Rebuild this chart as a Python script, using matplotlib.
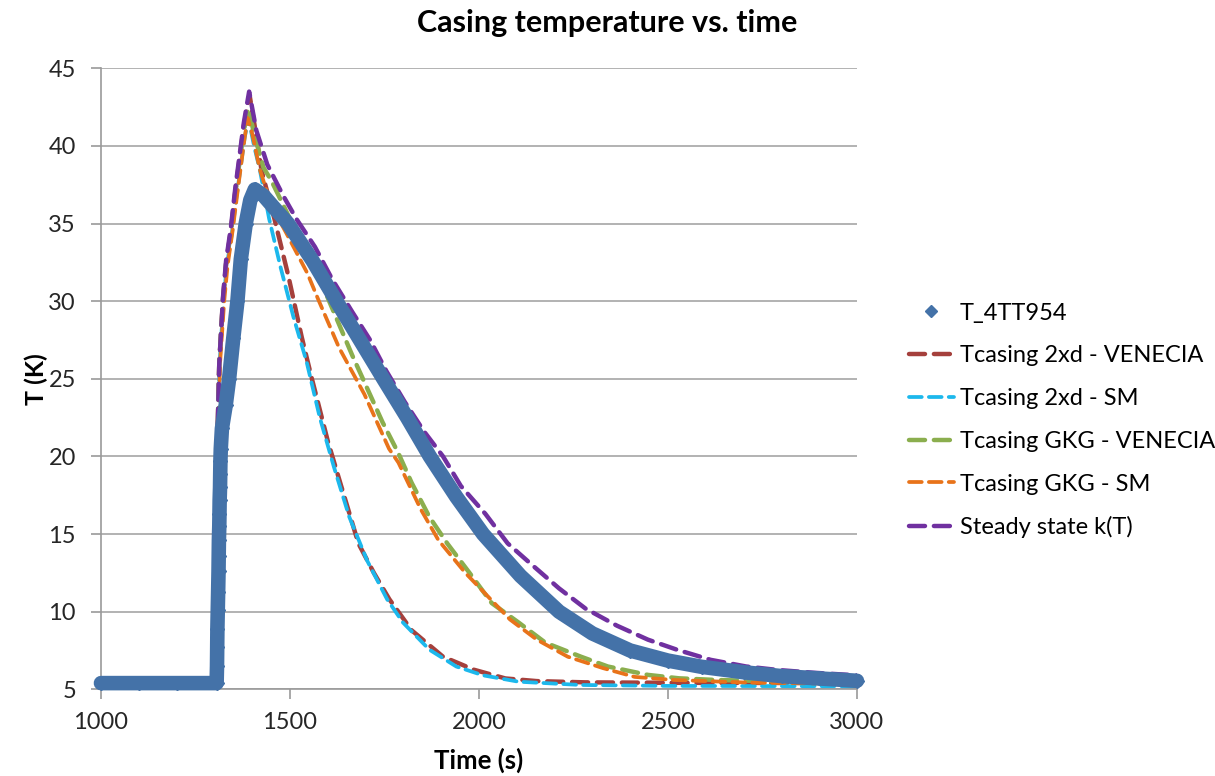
import matplotlib
matplotlib.use("Agg")
import matplotlib.pyplot as plt

plt.rcParams['font.family'] = ['Lato', 'DejaVu Sans']

# =========================
# Data
# =========================

t_meas = [1000, 1100, 1200, 1306, 1307, 1307.5, 1308, 1309, 1310, 1311, 1311.5,
          1312, 1313, 1313.5, 1314, 1315, 1315.5, 1316, 1317, 1320, 1330, 1339,
          1350, 1361, 1370, 1383, 1395, 1407, 1430, 1455, 1495, 1560, 1623, 1685,
          1747, 1810, 1870, 1940, 2011, 2110, 2212, 2300, 2400, 2500, 2589, 2700,
          2801, 2900, 3000]
T_meas = [5.4, 5.4, 5.4, 5.4, 6.5, 7.7, 8.9, 10.1, 11.3, 12.6, 13.6,
          14.6, 15.5, 16.3, 17.2, 18.0, 18.9, 19.7, 20.5, 21.8, 23.3, 25.0,
          27.6, 30.0, 32.7, 35.0, 36.5, 37.2, 36.8, 36.1, 35.0, 32.6, 30.0, 27.5,
          25.0, 22.5, 20.0, 17.4, 15.0, 12.3, 10.0, 8.6, 7.5, 6.85, 6.45, 6.1,
          5.85, 5.7, 5.55]

t_2xd_ven = [1000, 1304, 1306, 1307, 1313, 1323, 1331, 1344, 1355, 1378, 1393,
             1410, 1425, 1460, 1496, 1531, 1557, 1600, 1633, 1681, 1722, 1763,
             1822, 1905, 1987, 2070, 2153, 2280, 2500, 3000]
T_2xd_ven = [5.4, 5.4, 12, 20, 26, 30.2, 32.4, 34.6, 37, 41.3, 43.3,
             40.8, 38.4, 35.2, 31.6, 27.7, 25.1, 21.0, 18.3, 14.4, 12.5, 10.8,
             8.8, 7.1, 6.26, 5.7, 5.53, 5.45, 5.42, 5.4]

t_2xd_sm = [1000, 1304, 1306, 1307, 1314, 1324, 1333, 1346, 1358, 1380, 1390,
            1405, 1420, 1445, 1475, 1509, 1544, 1579, 1616, 1657, 1704, 1757,
            1799, 1869, 1940, 2011, 2105, 2270, 2500, 3000]
T_2xd_sm = [5.4, 5.4, 12, 20, 26, 30, 32.3, 34.3, 36.6, 40.5, 41.8,
            40, 38.5, 35.3, 32.2, 29.0, 26.1, 22.5, 19.35, 16.1, 13.3, 10.8,
            9.3, 7.55, 6.47, 5.9, 5.49, 5.28, 5.22, 5.2]

t_gkg_ven = [1000, 1304, 1306, 1307, 1313, 1323, 1331, 1344, 1355, 1378, 1390,
             1405, 1430, 1450, 1500, 1550, 1595, 1665, 1745, 1787, 1822, 1869,
             1916, 1975, 2034, 2105, 2176, 2270, 2341, 2447, 2529, 2630, 2820, 3000]
T_gkg_ven = [5.4, 5.4, 12, 20, 26, 30.1, 32.4, 34.5, 36.9, 41, 42.4,
             40.8, 38.6, 37.8, 35.3, 33.0, 30.5, 26.5, 22.2, 20.2, 18.3, 16.1,
             14.4, 12.5, 10.55, 9.3, 8.0, 7.1, 6.47, 5.93, 5.71, 5.6, 5.5, 5.45]

t_gkg_sm = [1000, 1304, 1307, 1308, 1315, 1326, 1335, 1348, 1360, 1380, 1388,
            1400, 1420, 1450, 1490, 1546, 1575, 1630, 1697, 1762, 1787, 1846,
            1893, 1964, 2023, 2082, 2153, 2235, 2329, 2412, 2518, 2716, 3000]
T_gkg_sm = [5.4, 5.4, 12, 20, 26, 30, 32.3, 34.5, 36.8, 40.5, 41.8,
            40.8, 38.5, 36.2, 34.4, 31.8, 30.1, 27, 24, 20.5, 19.6, 16.6,
            14.6, 12.5, 11.0, 9.5, 8.2, 7.1, 6.36, 5.8, 5.6, 5.43, 5.35]

t_steady = [1000, 1304, 1306, 1307, 1313, 1323, 1331, 1344, 1355, 1378, 1392,
            1411, 1440, 1482, 1517, 1566, 1612, 1665, 1712, 1755, 1804, 1855,
            1905, 1952, 2017, 2076, 2141, 2212, 2282, 2365, 2447, 2524, 2613,
            2707, 2789, 2884, 3000]
T_steady = [5.4, 5.4, 12, 20, 26, 30.3, 32.6, 34.8, 37.2, 41.5, 43.5,
            41, 38.8, 36.8, 35.3, 33.5, 31.4, 29.3, 27.5, 25.5, 23.5, 21.6,
            20.0, 18.1, 16.3, 14.4, 13.0, 11.5, 10.2, 9.1, 8.2, 7.55, 6.9,
            6.47, 6.25, 6.07, 5.9]

x_ticks = [1000, 1500, 2000, 2500, 3000]
y_ticks = [5, 10, 15, 20, 25, 30, 35, 40, 45]

# =========================
# Figure
# =========================

fig = plt.figure(figsize=(12.15, 7.76), dpi=100)
ax = fig.add_axes([0.0831, 0.1117, 0.6222, 0.8003])

long_dash = (3.6, 2.0)
short_dash = (3.4, 1.9)

dashed = [
    (t_2xd_ven, T_2xd_ven, '#A5403C', 'Tcasing 2xd - VENECIA', long_dash, 3.2),
    (t_2xd_sm, T_2xd_sm, '#1CB8EC', 'Tcasing 2xd - SM', short_dash, 2.7),
    (t_gkg_ven, T_gkg_ven, '#8BAE4E', 'Tcasing GKG - VENECIA', long_dash, 3.2),
    (t_gkg_sm, T_gkg_sm, '#E8731A', 'Tcasing GKG - SM', short_dash, 2.7),
    (t_steady, T_steady, '#7030A0', 'Steady state k(T)', long_dash, 3.2),
]

handles = []

meas, = ax.plot(t_meas, T_meas, color='#4472A8', linewidth=10.5,
                solid_joinstyle='round', solid_capstyle='round',
                marker='D', markersize=7.5, clip_on=False, zorder=5)
meas_handle, = ax.plot([], [], linestyle='none', marker='D',
                       markersize=6.5, color='#4472A8', label='T_4TT954')
handles.append(meas_handle)

for tt, TT, col, lab, dash, lw in dashed:
    line, = ax.plot(tt, TT, color=col, linewidth=lw, label=lab,
                    dash_capstyle='round', zorder=3)
    line.set_dashes(dash)
    handles.append(line)

# =========================
# Axes styling
# =========================

ax.set_xlim(1000, 3000)
ax.set_ylim(5, 45)
ax.set_xticks(x_ticks)
ax.set_yticks(y_ticks)

ax.grid(axis='y', color='#A6A6A6', linewidth=1.2)
ax.set_axisbelow(True)

for side in ['top', 'right']:
    ax.spines[side].set_visible(False)
for side in ['left', 'bottom']:
    ax.spines[side].set_color('#9A9A9A')
    ax.spines[side].set_linewidth(1.2)

ax.tick_params(axis='both', direction='out', length=7, width=1.2,
               color='#9A9A9A', labelsize=17, labelcolor='#262626')
ax.tick_params(axis='x', pad=9)
ax.tick_params(axis='y', pad=11)

ax.set_xlabel('Time (s)', fontsize=18.5, fontweight='bold', labelpad=11)
ax.set_ylabel('T (K)', fontsize=18, fontweight='bold', labelpad=0)

fig.text(0.5, 0.970, 'Casing temperature vs. time', ha='center', va='center',
         fontsize=22, fontweight='bold')

fig.legend(handles=handles, loc='center left', bbox_to_anchor=(0.748, 0.458),
           frameon=False, fontsize=17, handlelength=1.9, handletextpad=0.25,
           labelspacing=0.92, borderpad=0, borderaxespad=0)

fig.savefig('out.png', dpi=100)
